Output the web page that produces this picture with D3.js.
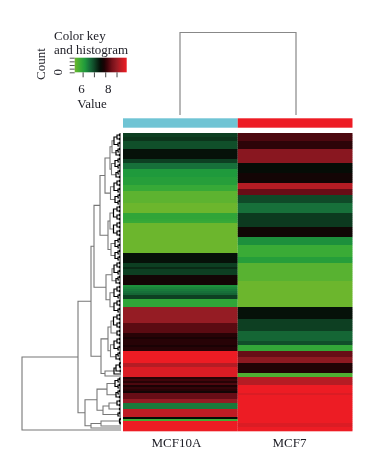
<!DOCTYPE html>
<html>
<head>
<meta charset="utf-8">
<style>
  html, body { margin: 0; padding: 0; background: #fff; }
  svg { display: block; filter: blur( 0.35px ); }
  text { font-family: "Liberation Serif", serif; fill: #1c1c24; }
</style>
<script src="https://cdn.jsdelivr.net/npm/d3@7/dist/d3.min.js"></script>
</head>
<body>
<div id="chart"></div>
<script>

const width = 365,
  height = 455;

const samples = [ 'MCF10A', 'MCF7' ];
const sampleColors = [ '#6fc4d4', '#ed1c24' ];

// Expression per row, top to bottom
const mcf10a = [
  7.1, 7.1, 7.2, 7.2, 6.95, 6.95, 6.95, 6.95, 7.55, 7.55, 7.55, 7.55, 7.55, 7.1, 7.1,
  6.6, 6.6, 6.6, 6.2, 6.2, 6.2, 6.2, 6.1, 6.1, 6.1, 6.1, 5.85, 5.85, 5.85,
  5.45, 5.45, 5.45, 5.45, 5.45, 5.45, 5.3, 5.3, 5.3, 5.3, 5.3, 5.95, 5.95, 5.95, 5.9, 5.85,
  5.3, 5.3, 5.3, 5.3, 5.3, 5.3, 5.3, 5.3, 5.3, 5.3, 5.3, 5.3, 5.3, 5.3, 5.3,
  7.55, 7.55, 7.55, 7.55, 7.55, 7.1, 7.1, 7.3, 7.1, 7.1, 7.1, 7.8, 7.8, 7.8, 7.8, 7.8,
  6.3, 6.4, 6.5, 6.6, 6.7, 7.1, 7.1, 5.95, 5.95, 5.95, 5.95,
  9.0, 9.0, 9.0, 9.0, 9.0, 9.0, 9.0, 9.0, 8.4, 8.4, 8.4, 8.4, 8.4,
  8.0, 8.0, 7.9, 8.0, 8.0, 8.0, 7.9, 8.0, 8.0,
  9.9, 9.9, 9.9, 9.9, 9.9, 9.9, 9.3, 9.3, 9.7, 9.7, 9.7, 9.7, 9.7,
  8.0, 8.2, 8.0, 8.3, 7.9, 8.1, 8.0, 7.8, 8.5, 8.5, 8.5, 9.0, 9.0,
  6.5, 6.5, 6.5, 9.4, 9.4, 9.4, 9.4, 7.6, 5.7, 9.9, 9.9, 9.9, 9.9, 9.9
];

const mcf7 = [
  8.3, 8.3, 8.3, 8.3, 8.05, 8.05, 8.05, 8.05, 8.85, 8.85, 8.85, 8.85, 8.85, 8.85, 8.85,
  7.6, 7.6, 7.6, 7.6, 7.6, 7.8, 7.8, 7.8, 7.8, 7.8, 9.3, 9.3, 9.3, 8.5, 8.5, 8.5,
  7.0, 7.0, 7.0, 7.0, 6.6, 6.6, 6.6, 6.6, 6.6, 7.15, 7.15, 7.15, 7.15, 7.15, 7.15, 7.15,
  7.75, 7.75, 7.75, 7.75, 7.75, 6.3, 6.3, 6.3, 6.3, 5.8, 5.8, 5.8, 5.8, 5.8, 5.8, 6.1, 6.1, 6.1,
  5.5, 5.5, 5.5, 5.5, 5.5, 5.5, 5.5, 5.5, 5.5,
  5.3, 5.3, 5.3, 5.3, 5.3, 5.3, 5.3, 5.3, 5.3, 5.3, 5.3, 5.3, 5.3,
  7.55, 7.55, 7.55, 7.55, 7.55, 7.55, 7.1, 7.1, 7.1, 7.1, 7.1, 7.1,
  6.7, 6.7, 6.7, 6.7, 6.7, 6.95, 6.95, 5.9, 5.9, 5.9, 8.5, 8.5, 8.5, 8.9, 8.9, 8.9,
  7.95, 7.95, 7.95, 7.95, 7.95, 5.6, 5.6, 9.3, 9.3, 9.3, 9.3,
  9.9, 9.9, 9.9, 9.9, 9.7, 9.9, 9.9, 9.9, 9.9, 9.9, 9.9, 9.9,
  9.9, 9.9, 9.9, 9.9, 9.9, 9.9, 9.9, 9.7, 9.7, 9.9, 9.9
];

// Colour key
const keyValues = [ 5.3, 5.8, 6.2, 6.6, 7.0, 7.3, 7.6, 7.9, 8.2, 8.6, 9.0, 9.4, 9.9 ];
const keyColors = [ '#6cb62d', '#3aab36', '#1f9a3c', '#17703a', '#0f4a28', '#0a2a16', '#050c06',
  '#1a0204', '#40050b', '#751019', '#951c24', '#c01c24', '#ed1c24' ];
const keyTicks = [ 6, 7, 8, 9 ];
const keyLabels = [ '6', '', '8', '' ];
const countTicks = [ 0, 50, 100, 150, 200 ];
const countLabels = [ '0', '', '', '', '' ];

// Row dendrogram: [ height, child, child ], 0 is a leaf
const c2 = [ 1.5, 0, 0 ],
  c3 = [ 3, c2, 0 ],
  c4 = [ 4, c2, c2 ],
  c5 = [ 5, c3, c2 ],
  c6 = [ 6, c3, c3 ],
  c7 = [ 7, c4, c3 ],
  c8 = [ 7.5, c4, c4 ],
  d2 = [ 0.8, 0, 0 ],
  d4 = [ 1.5, d2, d2 ];

const rowTree = [ 99,
  [ 43,
    [ 30,
      [ 27,
        [ 21,
          [ 16, [ 11, [ 9, c7, c5 ], [ 9.5, c6, c5 ] ], [ 10.5, c7, c6 ] ],
          [ 13, [ 11, c8, c8 ], [ 10, c6, c6 ] ]
        ],
        [ 15, [ 9, c7, c5 ], [ 11, c7, c7 ] ]
      ],
      [ 20,
        [ 13, [ 10, c8, c4 ], [ 10.5, c7, c5 ] ],
        [ 16, [ 7, [ 5, d4, d2 ], 0 ], 0 ]
      ]
    ],
    [ 36,
      [ 24, [ 14, c6, c5 ], [ 18, [ 12, c4, c2 ], c3 ] ],
      [ 30, [ 20, d4, 0 ], 0 ]
    ]
  ],
  0
];

// Column dendrogram
const colTree = [ 82, 0, 0 ];

const svg = d3.select( '#chart' )
  .append( 'svg' )
    .attr( 'width', width )
    .attr( 'height', height );

// Scales
const xScale = d3.scaleBand()
  .domain( samples )
  .range( [ 123, 352.5 ] );

const yScale = d3.scaleBand()
  .domain( d3.range( mcf10a.length ) )
  .range( [ 133, 431 ] );

const colorScale = d3.scaleLinear()
  .domain( keyValues )
  .range( keyColors );

const rowHeight = d3.scaleLinear()
  .domain( [ 0, 99 ] )
  .range( [ 121, 22 ] );

const colHeight = d3.scaleLinear()
  .domain( [ 0, 82 ] )
  .range( [ 115, 32.5 ] );

const keyX = d3.scaleLinear()
  .domain( [ 5.3, 9.9 ] )
  .range( [ 74.7, 126.7 ] );

const keyY = d3.scaleLinear()
  .domain( [ 0, 200 ] )
  .range( [ 72.3, 57.7 ] );

// Heatmap
[ mcf10a, mcf7 ].forEach( ( values, i ) => {

  svg.append( 'g' )
    .selectAll( 'rect' )
    .data( values )
    .enter()
      .append( 'rect' )
      .attr( 'x', xScale( samples[ i ] ) )
      .attr( 'y', ( d, r ) => yScale( r ) )
      .attr( 'width', xScale.bandwidth() )
      .attr( 'height', yScale.bandwidth() + 0.3 )
      .attr( 'fill', d => colorScale( d ) );

} );

// Sample colour bar
svg.append( 'g' )
  .selectAll( 'rect' )
  .data( samples )
  .enter()
    .append( 'rect' )
    .attr( 'x', d => xScale( d ) )
    .attr( 'y', 118.3 )
    .attr( 'width', xScale.bandwidth() )
    .attr( 'height', 9.4 )
    .attr( 'fill', ( d, i ) => sampleColors[ i ] );

// Sample labels
svg.append( 'g' )
  .selectAll( 'text' )
  .data( samples )
  .enter()
    .append( 'text' )
    .attr( 'x', ( d, i ) => i == 0 ? 176.5 : 289.5 )
    .attr( 'y', 447 )
    .attr( 'text-anchor', 'middle' )
    .style( 'font-size', '13px' )
    .text( d => d );

// Row dendrogram, leaves follow the heatmap rows
const rowRoot = d3.hierarchy( rowTree, d => Array.isArray( d ) ? d.slice( 1 ) : null );
let leaf = 0;
rowRoot.eachAfter( n => {
  if( n.children ) {
    n.pos = d3.mean( n.children, c => c.pos );
    n.x = rowHeight( n.data[ 0 ] );
  } else {
    n.pos = yScale( leaf ) + yScale.bandwidth() / 2;
    n.x = rowHeight( 0 );
    leaf++;
  }
} );

svg.append( 'g' )
  .attr( 'fill', 'none' )
  .selectAll( 'path' )
  .data( rowRoot.descendants().filter( n => n.children ) )
  .enter()
    .append( 'path' )
    .attr( 'd', n => {
      const a = n.children[ 0 ], b = n.children[ 1 ];
      return 'M' + a.x + ',' + a.pos + 'H' + n.x + 'V' + b.pos + 'H' + b.x;
    } )
    .attr( 'stroke', n => n.data[ 0 ] < 8 ? '#000' : '#777' )
    .attr( 'stroke-width', n => n.data[ 0 ] < 8 ? 1.2 : 1.1 );

// Column dendrogram
const colCenters = [ 180, 296 ];
svg.append( 'path' )
  .attr( 'fill', 'none' )
  .attr( 'stroke', '#888' )
  .attr( 'stroke-width', 1.2 )
  .attr( 'd', 'M' + colCenters[ 0 ] + ',' + colHeight( colTree[ 1 ] ) +
    'V' + colHeight( colTree[ 0 ] ) +
    'H' + colCenters[ 1 ] +
    'V' + colHeight( colTree[ 2 ] ) );

// Colour key
const gradient = svg.append( 'defs' )
  .append( 'linearGradient' )
    .attr( 'id', 'key-gradient' );

gradient.selectAll( 'stop' )
  .data( keyValues )
  .enter()
    .append( 'stop' )
    .attr( 'offset', d => ( d - 5.3 ) / ( 9.9 - 5.3 ) )
    .attr( 'stop-color', d => colorScale( d ) );

svg.append( 'rect' )
  .attr( 'x', keyX( 5.3 ) )
  .attr( 'y', keyY( 200 ) )
  .attr( 'width', keyX( 9.9 ) - keyX( 5.3 ) )
  .attr( 'height', keyY( 0 ) - keyY( 200 ) )
  .attr( 'fill', 'url(#key-gradient)' );

const keyAxisX = svg.append( 'g' )
  .attr( 'transform', 'translate(0,' + keyY( 0 ) + ')' )
  .call( d3.axisBottom( keyX )
    .tickValues( keyTicks )
    .tickSize( 5 )
    .tickPadding( 6 )
    .tickFormat( ( d, i ) => keyLabels[ i ] ) );

keyAxisX.select( '.domain' ).remove();
keyAxisX.selectAll( 'line' ).attr( 'stroke', '#444' );
keyAxisX.selectAll( 'text' )
  .style( 'font-size', '13px' )
  .style( 'font-family', '"Liberation Serif", serif' )
  .attr( 'fill', '#1c1c24' )
  .attr( 'dx', ( d, i ) => i == 0 ? -1.5 : 2.5 );

const keyAxisY = svg.append( 'g' )
  .attr( 'transform', 'translate(' + keyX( 5.3 ) + ',0)' )
  .call( d3.axisLeft( keyY )
    .tickValues( countTicks )
    .tickSize( 5 )
    .tickFormat( '' ) );

keyAxisY.select( '.domain' ).remove();
keyAxisY.selectAll( 'line' ).attr( 'stroke', '#555' );

svg.append( 'text' )
  .attr( 'transform', 'translate(62,' + keyY( 0 ) + ') rotate(-90)' )
  .attr( 'text-anchor', 'middle' )
  .style( 'font-size', '13px' )
  .text( countLabels[ 0 ] );

svg.append( 'text' )
  .attr( 'x', 54 )
  .attr( 'y', 40 )
  .style( 'font-size', '13px' )
  .text( 'Color key' );

svg.append( 'text' )
  .attr( 'x', 54 )
  .attr( 'y', 54 )
  .style( 'font-size', '13px' )
  .text( 'and histogram' );

svg.append( 'text' )
  .attr( 'transform', 'translate(45,64) rotate(-90)' )
  .attr( 'text-anchor', 'middle' )
  .style( 'font-size', '13px' )
  .text( 'Count' );

svg.append( 'text' )
  .attr( 'x', 92 )
  .attr( 'y', 107.5 )
  .attr( 'text-anchor', 'middle' )
  .style( 'font-size', '13px' )
  .text( 'Value' );

</script>
</body>
</html>
